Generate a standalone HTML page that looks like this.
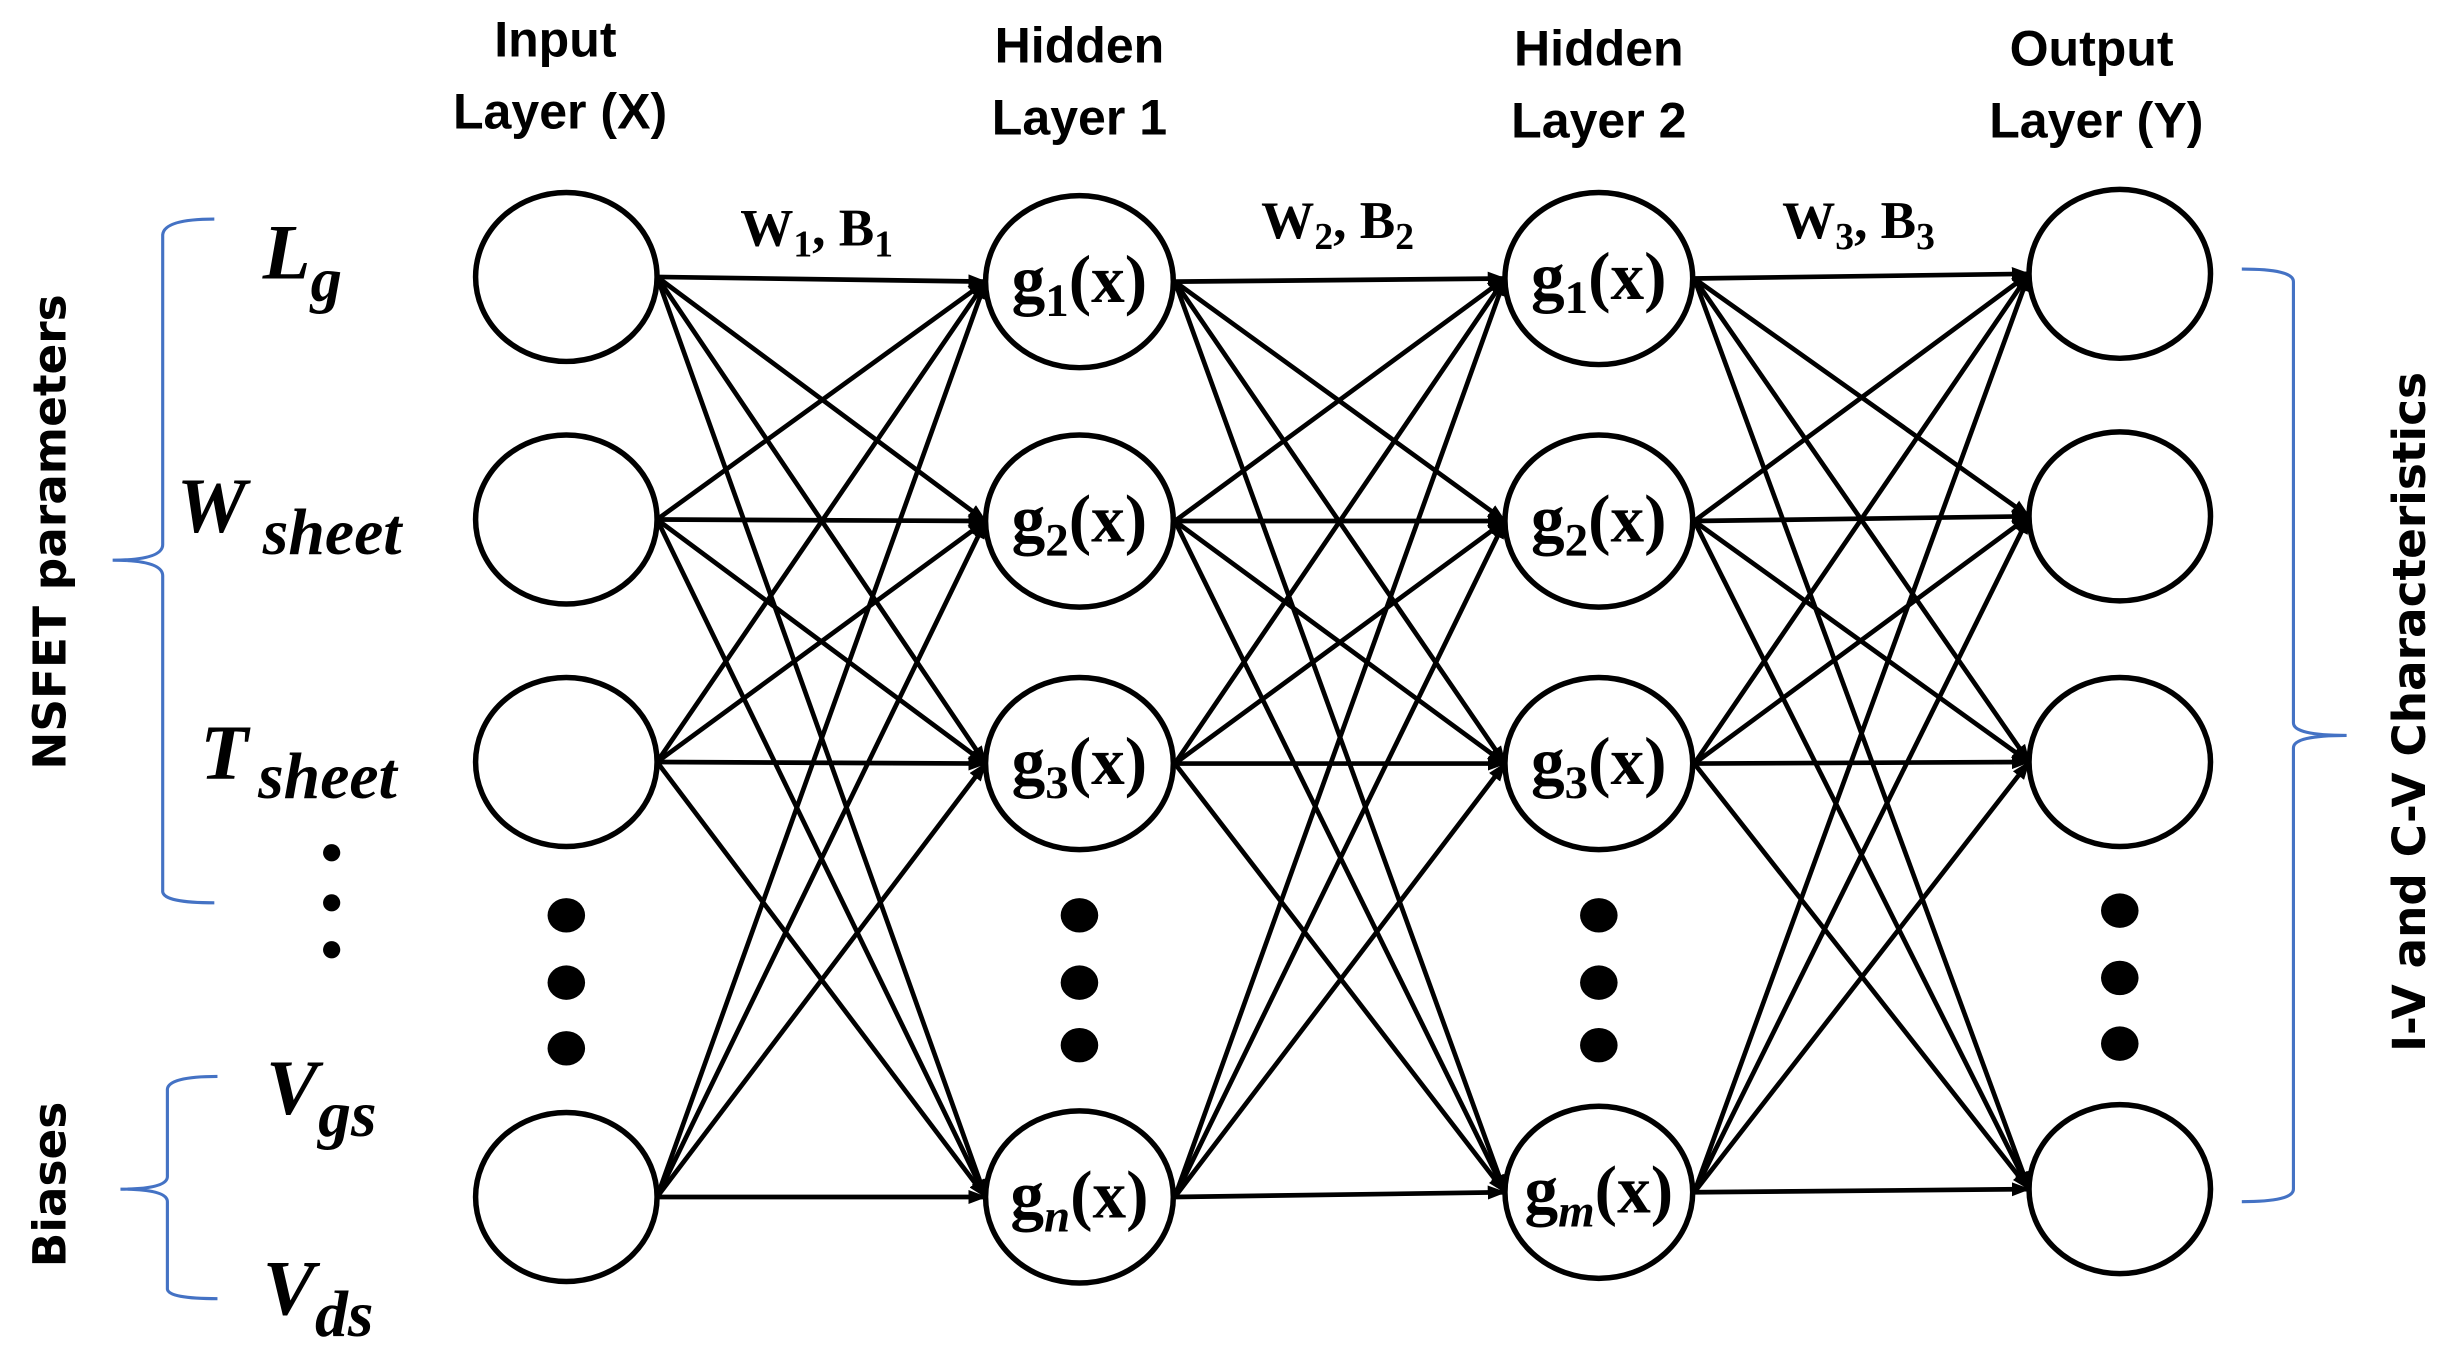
<!DOCTYPE html>
<html><head><meta charset="utf-8"><style>
html,body{margin:0;padding:0;background:#fff;}
svg{display:block;}
.h{font-family:"Liberation Sans",sans-serif;font-weight:bold;font-size:32px;fill:#000;}
.s{font-family:"Liberation Serif",serif;font-weight:bold;fill:#000;}
.i{font-family:"Liberation Serif",serif;font-weight:bold;font-style:italic;fill:#000;}
.r{font-family:"DejaVu Sans","Liberation Sans",sans-serif;font-weight:bold;font-size:29px;fill:#000;}
</style></head><body>
<svg width="2453" height="1355" viewBox="0 0 1568 866" preserveAspectRatio="none" xmlns="http://www.w3.org/2000/svg">
<defs><marker id="a" markerWidth="12" markerHeight="9" refX="11" refY="4.5" orient="auto" markerUnits="userSpaceOnUse"><path d="M0,0 L12,4.5 L0,9 z" fill="#000"/></marker></defs>
<g stroke="#000" stroke-width="3" marker-end="url(#a)">
<line x1="420" y1="177" x2="630" y2="180"/><line x1="420" y1="177" x2="630" y2="333"/><line x1="420" y1="177" x2="630" y2="488"/><line x1="420" y1="177" x2="630" y2="765"/>
<line x1="420" y1="332" x2="630" y2="180"/><line x1="420" y1="332" x2="630" y2="333"/><line x1="420" y1="332" x2="630" y2="488"/><line x1="420" y1="332" x2="630" y2="765"/>
<line x1="420" y1="487" x2="630" y2="180"/><line x1="420" y1="487" x2="630" y2="333"/><line x1="420" y1="487" x2="630" y2="488"/><line x1="420" y1="487" x2="630" y2="765"/>
<line x1="420" y1="765" x2="630" y2="180"/><line x1="420" y1="765" x2="630" y2="333"/><line x1="420" y1="765" x2="630" y2="488"/><line x1="420" y1="765" x2="630" y2="765"/>
<line x1="751" y1="180" x2="962" y2="178"/><line x1="751" y1="180" x2="962" y2="333"/><line x1="751" y1="180" x2="962" y2="488"/><line x1="751" y1="180" x2="962" y2="762"/>
<line x1="751" y1="333" x2="962" y2="178"/><line x1="751" y1="333" x2="962" y2="333"/><line x1="751" y1="333" x2="962" y2="488"/><line x1="751" y1="333" x2="962" y2="762"/>
<line x1="751" y1="488" x2="962" y2="178"/><line x1="751" y1="488" x2="962" y2="333"/><line x1="751" y1="488" x2="962" y2="488"/><line x1="751" y1="488" x2="962" y2="762"/>
<line x1="751" y1="765" x2="962" y2="178"/><line x1="751" y1="765" x2="962" y2="333"/><line x1="751" y1="765" x2="962" y2="488"/><line x1="751" y1="765" x2="962" y2="762"/>
<line x1="1083" y1="178" x2="1297" y2="175"/><line x1="1083" y1="178" x2="1297" y2="330"/><line x1="1083" y1="178" x2="1297" y2="487"/><line x1="1083" y1="178" x2="1297" y2="760"/>
<line x1="1083" y1="333" x2="1297" y2="175"/><line x1="1083" y1="333" x2="1297" y2="330"/><line x1="1083" y1="333" x2="1297" y2="487"/><line x1="1083" y1="333" x2="1297" y2="760"/>
<line x1="1083" y1="488" x2="1297" y2="175"/><line x1="1083" y1="488" x2="1297" y2="330"/><line x1="1083" y1="488" x2="1297" y2="487"/><line x1="1083" y1="488" x2="1297" y2="760"/>
<line x1="1083" y1="762" x2="1297" y2="175"/><line x1="1083" y1="762" x2="1297" y2="330"/><line x1="1083" y1="762" x2="1297" y2="487"/><line x1="1083" y1="762" x2="1297" y2="760"/>
</g>
<g fill="#fff" stroke="#000" stroke-width="3.5">
<ellipse cx="362" cy="177" rx="58" ry="54"/><ellipse cx="362" cy="332" rx="58" ry="54"/><ellipse cx="362" cy="487" rx="58" ry="54"/><ellipse cx="362" cy="765" rx="58" ry="54"/>
<ellipse cx="690" cy="180" rx="60" ry="55"/><ellipse cx="690" cy="333" rx="60" ry="55"/><ellipse cx="690" cy="488" rx="60" ry="55"/><ellipse cx="690" cy="765" rx="60" ry="55"/>
<ellipse cx="1022" cy="178" rx="60" ry="55"/><ellipse cx="1022" cy="333" rx="60" ry="55"/><ellipse cx="1022" cy="488" rx="60" ry="55"/><ellipse cx="1022" cy="762" rx="60" ry="55"/>
<ellipse cx="1355" cy="175" rx="58" ry="54"/><ellipse cx="1355" cy="330" rx="58" ry="54"/><ellipse cx="1355" cy="487" rx="58" ry="54"/><ellipse cx="1355" cy="760" rx="58" ry="54"/>
</g>
<g fill="#000">
<ellipse cx="362" cy="585" rx="12" ry="11"/><ellipse cx="362" cy="628" rx="12" ry="11"/><ellipse cx="362" cy="670" rx="12" ry="11"/>
<ellipse cx="690" cy="585" rx="12" ry="11"/><ellipse cx="690" cy="628" rx="12" ry="11"/><ellipse cx="690" cy="668" rx="12" ry="11"/>
<ellipse cx="1022" cy="585" rx="12" ry="11"/><ellipse cx="1022" cy="628" rx="12" ry="11"/><ellipse cx="1022" cy="668" rx="12" ry="11"/>
<ellipse cx="1355" cy="582" rx="12" ry="11"/><ellipse cx="1355" cy="625" rx="12" ry="11"/><ellipse cx="1355" cy="667" rx="12" ry="11"/>
<circle cx="212" cy="545" r="5.5"/><circle cx="212" cy="577" r="5.5"/><circle cx="212" cy="607" r="5.5"/>
</g>
<g class="h" text-anchor="middle">
<text x="355" y="36">Input</text><text x="358" y="82">Layer (X)</text>
<text x="690" y="40">Hidden</text><text x="690" y="86">Layer 1</text>
<text x="1022" y="42">Hidden</text><text x="1022" y="88">Layer 2</text>
<text x="1337" y="42">Output</text><text x="1340" y="88">Layer (Y)</text>
</g>
<g class="s" font-size="34" text-anchor="middle">
<text x="522" y="157">W<tspan font-size="24" dy="7">1</tspan><tspan dy="-7">, B</tspan><tspan font-size="24" dy="7">1</tspan></text>
<text x="855" y="152">W<tspan font-size="24" dy="7">2</tspan><tspan dy="-7">, B</tspan><tspan font-size="24" dy="7">2</tspan></text>
<text x="1188" y="152">W<tspan font-size="24" dy="7">3</tspan><tspan dy="-7">, B</tspan><tspan font-size="24" dy="7">3</tspan></text>
</g>
<g class="s" font-size="43" text-anchor="middle">
<text x="690" y="193">g<tspan font-size="30" dy="9">1</tspan><tspan dy="-9">(x)</tspan></text>
<text x="690" y="346">g<tspan font-size="30" dy="9">2</tspan><tspan dy="-9">(x)</tspan></text>
<text x="690" y="501">g<tspan font-size="30" dy="9">3</tspan><tspan dy="-9">(x)</tspan></text>
<text x="690" y="778">g<tspan font-size="30" dy="9" font-style="italic">n</tspan><tspan dy="-9">(x)</tspan></text>
<text x="1022" y="191">g<tspan font-size="30" dy="9">1</tspan><tspan dy="-9">(x)</tspan></text>
<text x="1022" y="346">g<tspan font-size="30" dy="9">2</tspan><tspan dy="-9">(x)</tspan></text>
<text x="1022" y="501">g<tspan font-size="30" dy="9">3</tspan><tspan dy="-9">(x)</tspan></text>
<text x="1022" y="775">g<tspan font-size="30" dy="9" font-style="italic">m</tspan><tspan dy="-9">(x)</tspan></text>
</g>
<g class="i">
<text x="168" y="178" font-size="50">L<tspan font-size="40" dy="14">g</tspan></text>
<text x="113" y="340" font-size="50">W<tspan font-size="42" dy="14" x="168">sheet</tspan></text>
<text x="128" y="498" font-size="50">T<tspan font-size="42" dy="12" x="165">sheet</tspan></text>
<text x="170" y="712" font-size="50">V<tspan font-size="42" dy="14">gs</tspan></text>
<text x="168" y="840" font-size="50">V<tspan font-size="42" dy="14">ds</tspan></text>
</g>
<g class="r">
<text transform="translate(42,340) rotate(-90)" text-anchor="middle">NSFET parameters</text>
<text transform="translate(42,757) rotate(-90)" text-anchor="middle">Biases</text>
<text transform="translate(1550,455) rotate(-90)" text-anchor="middle">I-V and C-V Characteristics</text>
</g>
<g fill="none" stroke="#4472c4" stroke-width="2">
<path d="M137,140 Q105,140 104,150 L104,348 Q104,358 72,358 Q104,358 104,368 L104,570 Q105,577 137,577"/>
<path d="M139,688 Q108,688 107,696 L107,752 Q107,760 77,760 Q107,760 107,768 L107,824 Q108,830 139,830"/>
<path d="M1433,172 Q1466,172 1466,180 L1466,462 Q1466,470 1500,470 Q1466,470 1466,478 L1466,760 Q1466,768 1433,768"/>
</g>
</svg>
</body></html>
